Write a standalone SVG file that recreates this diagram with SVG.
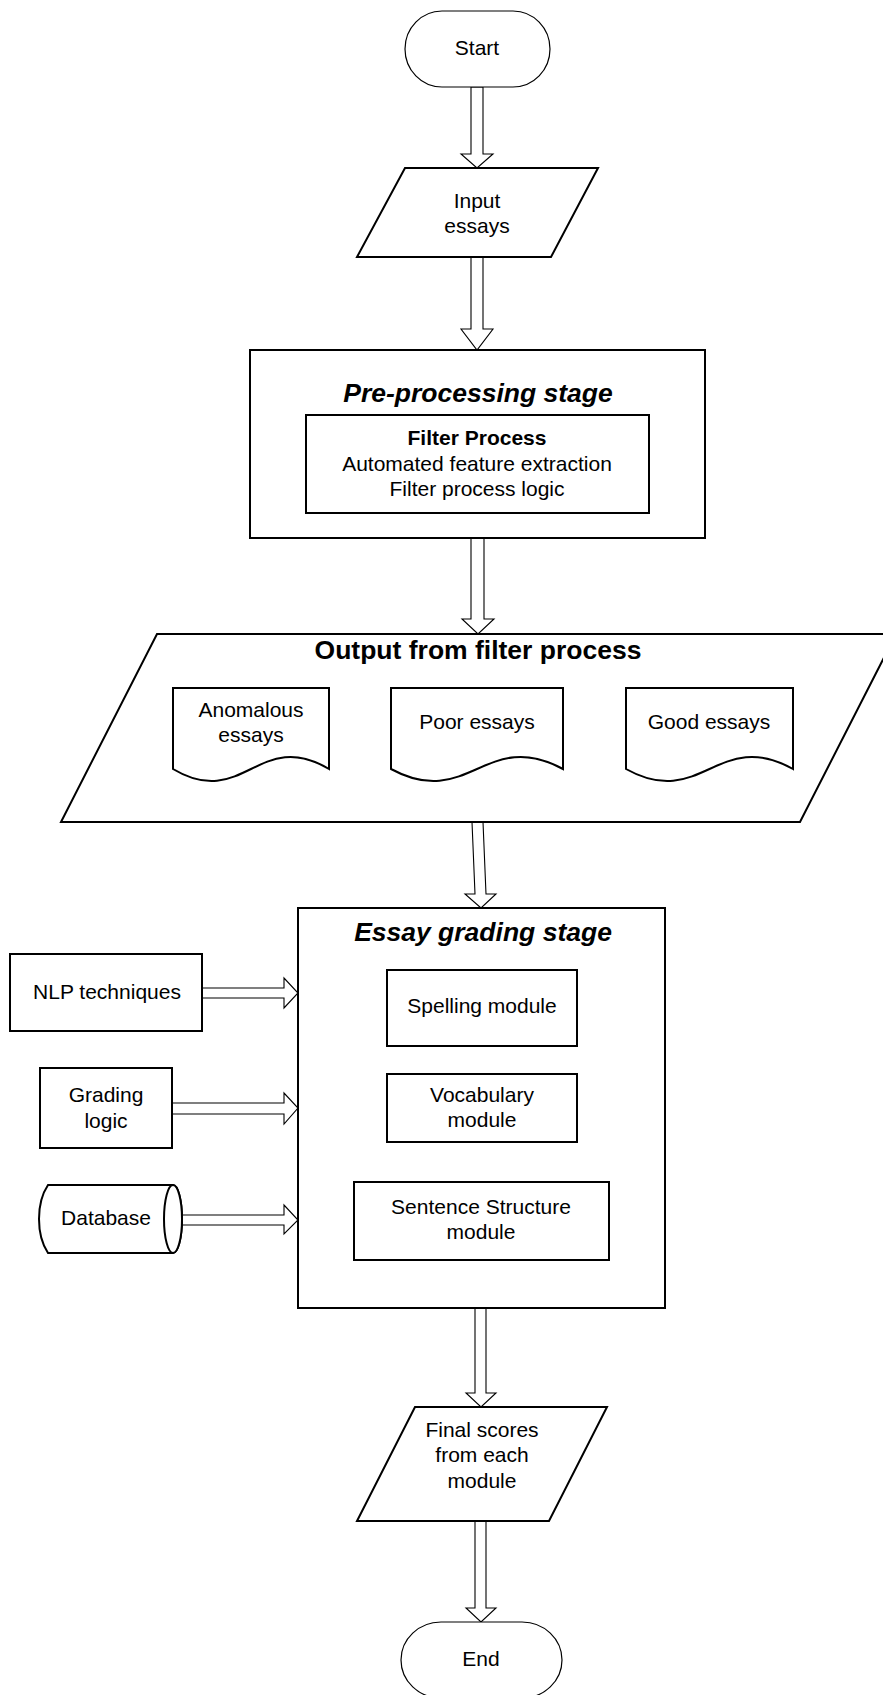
<svg xmlns="http://www.w3.org/2000/svg" width="883" height="1695" viewBox="0 0 883 1695">
  <style>
    .shape { fill: #ffffff; stroke: #000000; stroke-width: 2; }
    .thin { fill: #ffffff; stroke: #000000; stroke-width: 1.2; }
    .arrow { fill: #ffffff; stroke: #000000; stroke-width: 1.1; stroke-linejoin: miter; }
    text { font-family: "Liberation Sans", Arial, sans-serif; font-size: 21px; fill: #000000; text-anchor: middle; }
    .title { font-size: 26.5px; font-weight: bold; font-style: italic; }
    .bold { font-weight: bold; }
    .heading { font-size: 26.5px; font-weight: bold; }
  </style>

  <rect x="0" y="0" width="883" height="1695" fill="#ffffff"/>

  <!-- block arrows between stages -->
  <g id="connectors">
    <polygon class="arrow" points="471,87 483,87 483,154 493,154 477,168 461,154 471,154"/>
    <polygon class="arrow" points="471,257 483,257 483,329 493,329 477,350 461,329 471,329"/>
    <polygon class="arrow" points="471,538 484,538 484,619 494,619 478,634 462,619 471,619"/>
    <polygon class="arrow" points="472,822 483,822 486,894 496,894 481,908 465,894 475,894"/>
    <polygon class="arrow" points="202,988 284,988 284,978 298,993 284,1008 284,998 202,998"/>
    <polygon class="arrow" points="172,1103 284,1103 284,1093 298,1108 284,1124 284,1114 172,1114"/>
    <polygon class="arrow" points="181,1215 284,1215 284,1205 298,1220 284,1234 284,1225 181,1225"/>
    <polygon class="arrow" points="475,1308 486,1308 486,1393 496,1393 481,1407 466,1393 475,1393"/>
    <polygon class="arrow" points="475,1521 486,1521 486,1608 496,1608 481,1622 466,1608 475,1608"/>
  </g>

  <g id="start">
    <rect class="thin" x="405" y="11" width="145" height="76" rx="37" ry="38"/>
    <text x="477" y="55">Start</text>
  </g>

  <g id="input-essays">
    <polygon class="shape" points="405,168 598,168 551,257 357,257"/>
    <text x="477" y="208">Input</text>
    <text x="477" y="233">essays</text>
  </g>

  <g id="pre-processing">
    <rect class="shape" x="250" y="350" width="455" height="188"/>
    <text class="title" x="478" y="402">Pre-processing stage</text>
    <g id="filter-process">
      <rect class="shape" x="306" y="415" width="343" height="98"/>
      <text class="bold" x="477" y="445">Filter Process</text>
      <text x="477" y="471">Automated feature extraction</text>
      <text x="477" y="496">Filter process logic</text>
    </g>
  </g>

  <g id="filter-output">
    <polygon class="shape" points="157,634 896,634 800,822 61,822"/>
    <text class="heading" x="478" y="659">Output from filter process</text>
    <g id="anomalous-essays">
      <path class="shape" d="M173,688 H329 V769 C259,727 243,811 173,769 Z"/>
      <text x="251" y="717">Anomalous</text>
      <text x="251" y="742">essays</text>
    </g>
    <g id="poor-essays">
      <path class="shape" d="M391,688 H563 V769 C486,727 468,811 391,769 Z"/>
      <text x="477" y="729">Poor essays</text>
    </g>
    <g id="good-essays">
      <path class="shape" d="M626,688 H793 V769 C718,727 701,811 626,769 Z"/>
      <text x="709" y="729">Good essays</text>
    </g>
  </g>

  <g id="nlp-techniques">
    <rect class="shape" x="10" y="954" width="192" height="77"/>
    <text x="107" y="999">NLP techniques</text>
  </g>

  <g id="grading-logic">
    <rect class="shape" x="40" y="1068" width="132" height="80"/>
    <text x="106" y="1102">Grading</text>
    <text x="106" y="1128">logic</text>
  </g>

  <g id="database">
    <path class="shape" d="M48,1185 H173 A9,34 0 0 1 173,1253 H48 C36,1235 36,1203 48,1185 Z"/>
    <ellipse class="shape" cx="173" cy="1219" rx="9" ry="34"/>
    <text x="106" y="1225">Database</text>
  </g>

  <g id="essay-grading">
    <rect class="shape" x="298" y="908" width="367" height="400"/>
    <text class="title" x="483" y="941">Essay grading stage</text>
    <g id="spelling-module">
      <rect class="shape" x="387" y="970" width="190" height="76"/>
      <text x="482" y="1013">Spelling module</text>
    </g>
    <g id="vocabulary-module">
      <rect class="shape" x="387" y="1074" width="190" height="68"/>
      <text x="482" y="1102">Vocabulary</text>
      <text x="482" y="1127">module</text>
    </g>
    <g id="sentence-structure-module">
      <rect class="shape" x="354" y="1182" width="255" height="78"/>
      <text x="481" y="1214">Sentence Structure</text>
      <text x="481" y="1239">module</text>
    </g>
  </g>

  <g id="final-scores">
    <polygon class="shape" points="415,1407 607,1407 549,1521 357,1521"/>
    <text x="482" y="1437">Final scores</text>
    <text x="482" y="1462">from each</text>
    <text x="482" y="1488">module</text>
  </g>

  <g id="end">
    <rect class="thin" x="401" y="1622" width="161" height="76" rx="40" ry="38"/>
    <text x="481" y="1666">End</text>
  </g>
</svg>
